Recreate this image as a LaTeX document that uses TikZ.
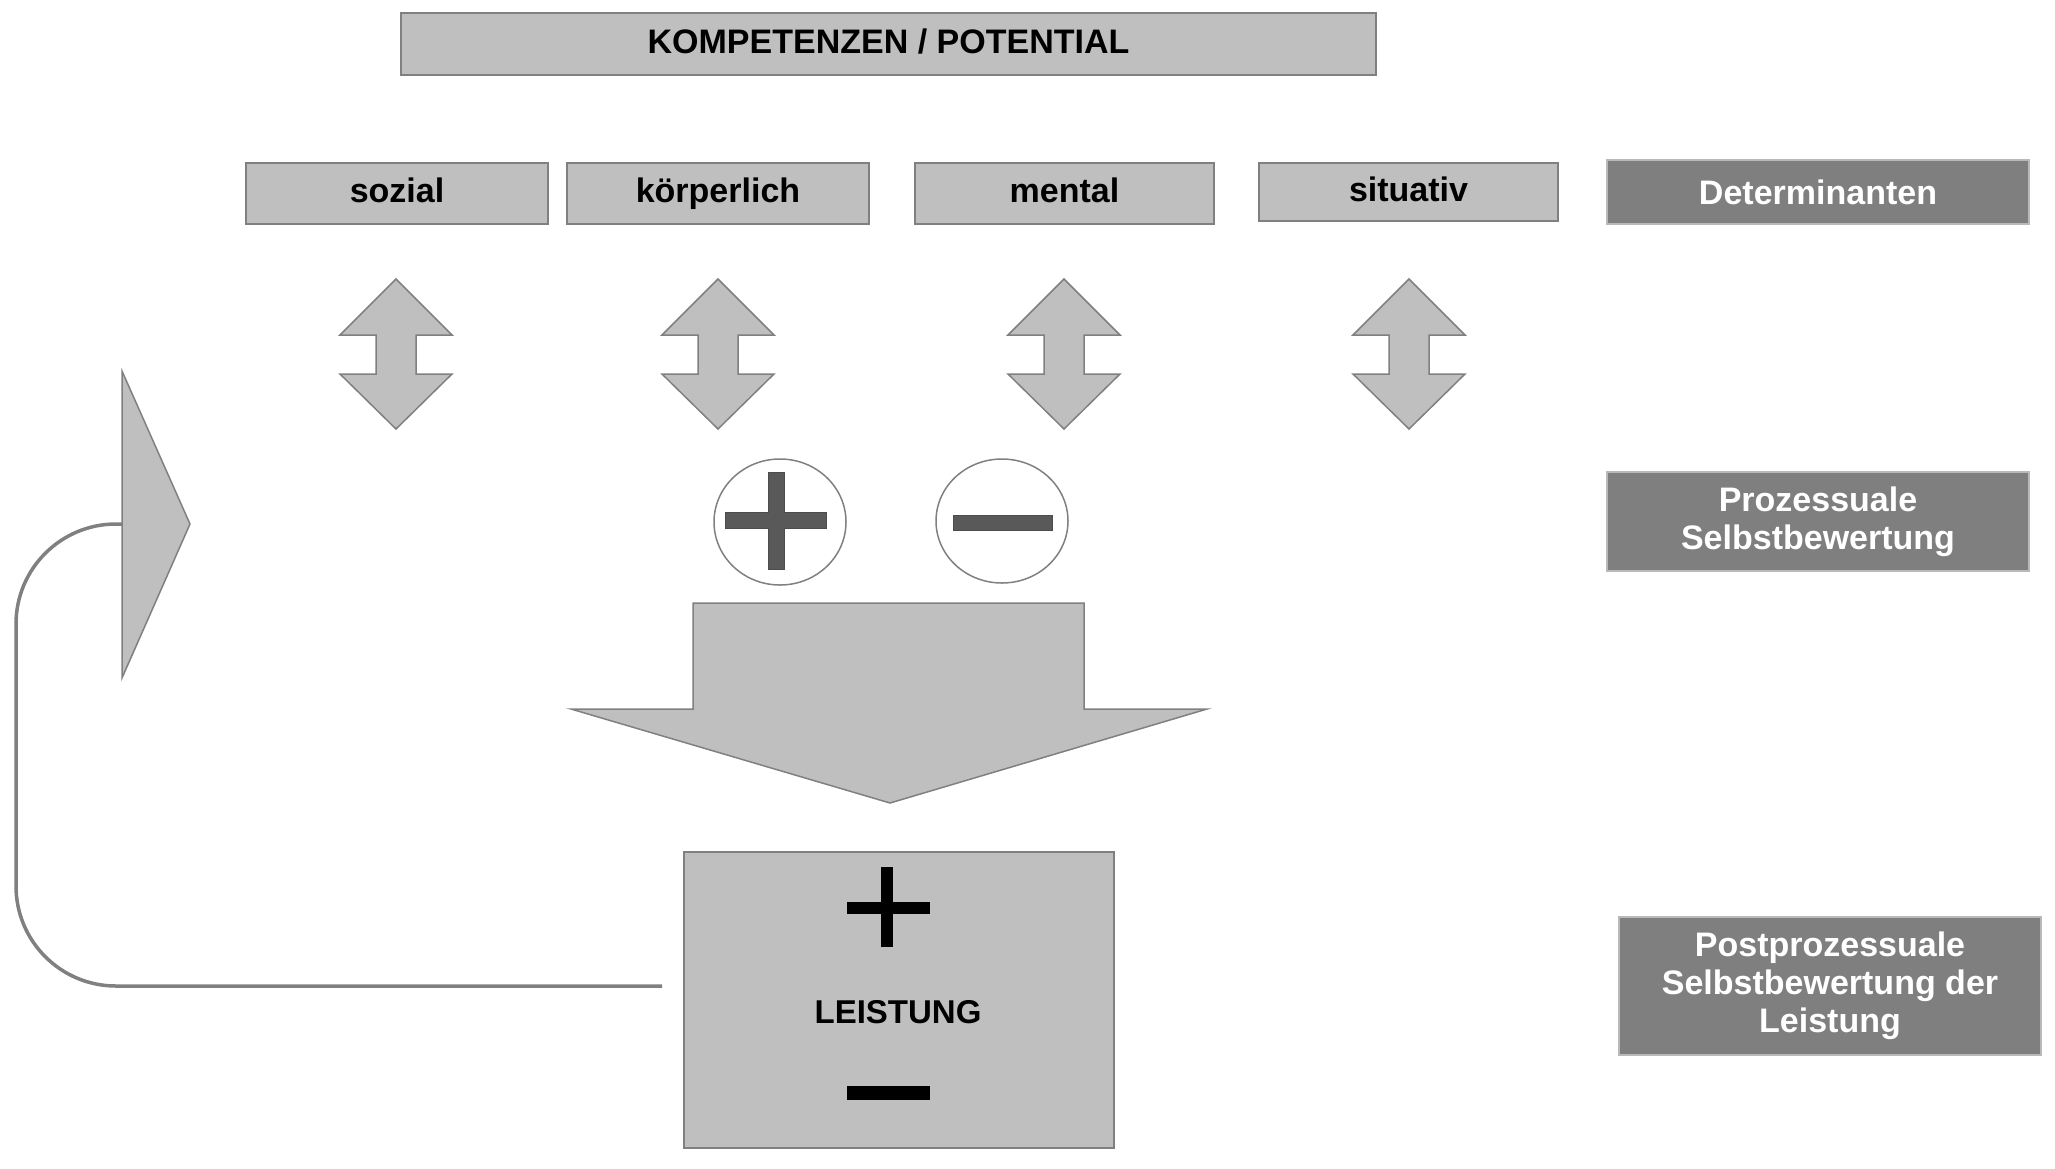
\documentclass[tikz,border=0pt]{standalone}
\usepackage{fontspec}
\setmainfont{Liberation Sans}
\usetikzlibrary{shapes.geometric}
\definecolor{lg}{HTML}{BFBFBF}
\definecolor{bd}{HTML}{808080}
\definecolor{dk}{HTML}{7F7F7F}
\definecolor{sg}{HTML}{595959}
\begin{document}
\begin{tikzpicture}[x=1pt,y=-1pt,
  txt/.style={font=\fontsize{34}{38}\selectfont\bfseries},
  lbox/.style={txt, draw=bd, line width=2pt, fill=lg, inner sep=0pt, text height=25pt, text depth=7pt},
  dbox/.style={txt, draw=gray!55, line width=2pt, fill=dk, text=white, inner sep=0pt, align=center},
  shape3/.style={draw=bd, line width=1.5pt, fill=lg, line join=miter},
  sign/.style={fill=sg, draw=black!70, line width=1pt},
  circ/.style={draw=bd, line width=1.5pt, fill=white, ellipse, inner sep=0pt},
  loop/.style={draw=bd, line width=3.5pt}]
\useasboundingbox (0,0) rectangle (2055,1168);
% top boxes
\node[lbox, minimum width=975pt, minimum height=62pt] (komp) at (888.5,44) {KOMPETENZEN / POTENTIAL};
\node[lbox, minimum width=302pt, minimum height=61pt] (soz) at (397,193.5) {sozial};
\node[lbox, minimum width=302pt, minimum height=61pt] (koe) at (718,193.5) {körperlich};
\node[lbox, minimum width=299pt, minimum height=61pt] (men) at (1064.5,193.5) {mental};
\node[lbox, minimum width=299pt, minimum height=58pt] (sit) at (1408.5,192) {situativ};
% right labels
\node[dbox, minimum width=422pt, minimum height=64pt] (det) at (1818,192) {Determinanten};
\node[dbox, minimum width=422pt, minimum height=99pt] (proz) at (1818,521.5) {Prozessuale\\Selbstbewertung};
\node[dbox, minimum width=422pt, minimum height=138pt] (post) at (1830,986) {Postprozessuale\\Selbstbewertung der\\Leistung};
% double arrows
\foreach \cx in {396,718,1064,1409}{
  \draw[shape3] (\cx,279) -- (\cx+56,335) -- (\cx+20,335) -- (\cx+20,374) -- (\cx+56,374)
    -- (\cx,429) -- (\cx-56,374) -- (\cx-20,374) -- (\cx-20,335) -- (\cx-56,335) -- cycle;
}
% plus / minus circles
\node[circ, minimum width=132pt, minimum height=126pt] (pc) at (780,522) {};
\node[circ, minimum width=132pt, minimum height=124pt] (mc) at (1002,521) {};
\draw[sign] (768,472) -- (784,472) -- (784,512) -- (826,512) -- (826,528) -- (784,528) -- (784,569)
  -- (768,569) -- (768,528) -- (725,528) -- (725,512) -- (768,512) -- cycle;
\draw[sign] (953,515) rectangle (1052,530);
% big down arrow
\draw[shape3] (693,603) -- (1084,603) -- (1084,709) -- (1207,709) -- (890,803) -- (571,709) -- (693,709) -- cycle;
% Leistung box
\node[draw=bd, line width=2pt, fill=lg, minimum width=430pt, minimum height=296pt] (leist) at (899,1000) {};
\fill[black] (847,902) rectangle (930,914);
\fill[black] (881,867) rectangle (893,947);
\node[txt, font=\fontsize{33}{38}\selectfont\bfseries] (ltext) at (898,1012) {LEISTUNG};
\fill[black] (847,1086) rectangle (930,1100);
% feedback loop
\coordinate (lstart) at (662,986);
\coordinate (tri) at (122,524);
\draw[loop, rounded corners=100pt] (lstart) -- (16,986) -- (16,524) -- (tri);
\draw[shape3] (122,371) -- (190,524) -- (122,678) -- cycle;
\end{tikzpicture}
\end{document}
